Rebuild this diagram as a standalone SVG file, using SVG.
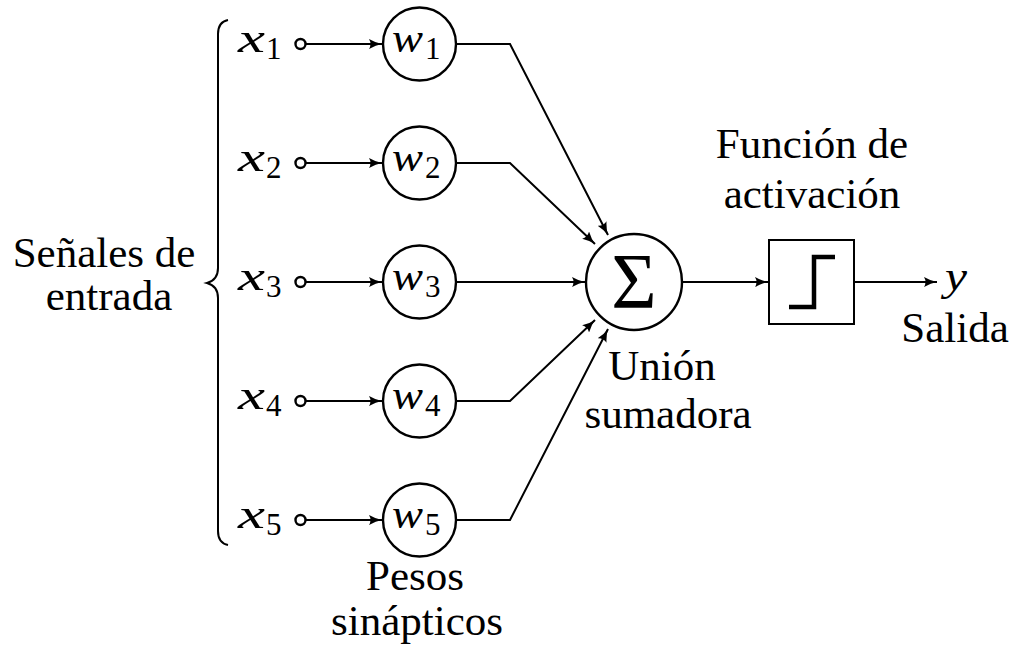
<svg xmlns="http://www.w3.org/2000/svg" width="1015" height="651" viewBox="0 0 1015 651">
<defs>
<style>
text{font-family:"Liberation Serif","DejaVu Serif",serif;fill:#000}
.t{font-size:43px}
.m{font-style:italic;font-size:42px}
.s{font-size:31px}
.c{fill:#fff;stroke:#000;stroke-width:2.4}
.ln{fill:none;stroke:#000;stroke-width:2}
.ar{fill:none;stroke:#000;stroke-width:2;marker-end:url(#ah)}
</style>
<marker id="ah" viewBox="0 0 13 10" refX="13" refY="5" markerWidth="13" markerHeight="10" markerUnits="userSpaceOnUse" orient="auto">
<path d="M0,0 Q7,4 13,5 Q7,6 0,10 Q3,5 0,0 Z" fill="#000"/>
</marker>
</defs>
<rect width="1015" height="651" fill="#fff"/>

<g id="connectors">
<line class="ar" x1="306" y1="44" x2="382" y2="44"/>
<line class="ar" x1="306" y1="163" x2="382" y2="163"/>
<line class="ar" x1="306" y1="282" x2="382" y2="282"/>
<line class="ar" x1="306" y1="401" x2="382" y2="401"/>
<line class="ar" x1="306" y1="520" x2="382" y2="520"/>
<polyline class="ar" points="456,44 510,44 608,235"/>
<polyline class="ar" points="456,163 510,163 595,244"/>
<line class="ar" x1="456" y1="282" x2="585" y2="282"/>
<polyline class="ar" points="456,401 510,401 595,320"/>
<polyline class="ar" points="456,520 510,520 608,329"/>
<line class="ar" x1="682" y1="282" x2="768" y2="282"/>
<line class="ar" x1="854" y1="282" x2="937" y2="282"/>
</g>

<g id="brace">
<path class="ln" d="M228,20 Q218,22 218,34 L218,268 Q218,280 207,283 Q218,286 218,298 L218,531 Q218,543 228,545"/>
</g>

<g id="inputs">
<g id="x1"><text class="m" x="238" y="52" textLength="27" lengthAdjust="spacingAndGlyphs">x</text><text class="s" x="266" y="59">1</text><circle class="c" cx="300.5" cy="44" r="5"/></g>
<g id="x2"><text class="m" x="238" y="171" textLength="27" lengthAdjust="spacingAndGlyphs">x</text><text class="s" x="266" y="178">2</text><circle class="c" cx="300.5" cy="163" r="5"/></g>
<g id="x3"><text class="m" x="238" y="290" textLength="27" lengthAdjust="spacingAndGlyphs">x</text><text class="s" x="266" y="297">3</text><circle class="c" cx="300.5" cy="282" r="5"/></g>
<g id="x4"><text class="m" x="238" y="409" textLength="27" lengthAdjust="spacingAndGlyphs">x</text><text class="s" x="266" y="416">4</text><circle class="c" cx="300.5" cy="401" r="5"/></g>
<g id="x5"><text class="m" x="238" y="528" textLength="27" lengthAdjust="spacingAndGlyphs">x</text><text class="s" x="266" y="535">5</text><circle class="c" cx="300.5" cy="520" r="5"/></g>
</g>

<g id="weights">
<g id="w1"><circle class="c" cx="419.5" cy="44" r="36.5"/><text class="m" x="392" y="52" textLength="31" lengthAdjust="spacingAndGlyphs">w</text><text class="s" x="425" y="59">1</text></g>
<g id="w2"><circle class="c" cx="419.5" cy="163" r="36.5"/><text class="m" x="392" y="171" textLength="31" lengthAdjust="spacingAndGlyphs">w</text><text class="s" x="425" y="178">2</text></g>
<g id="w3"><circle class="c" cx="419.5" cy="282" r="36.5"/><text class="m" x="392" y="290" textLength="31" lengthAdjust="spacingAndGlyphs">w</text><text class="s" x="425" y="297">3</text></g>
<g id="w4"><circle class="c" cx="419.5" cy="401" r="36.5"/><text class="m" x="392" y="409" textLength="31" lengthAdjust="spacingAndGlyphs">w</text><text class="s" x="425" y="416">4</text></g>
<g id="w5"><circle class="c" cx="419.5" cy="520" r="36.5"/><text class="m" x="392" y="528" textLength="31" lengthAdjust="spacingAndGlyphs">w</text><text class="s" x="425" y="535">5</text></g>
</g>

<g id="sum">
<circle class="c" cx="634" cy="282" r="48"/>
<text x="634" y="307" text-anchor="middle" font-size="78">Σ</text>
</g>

<g id="activation">
<rect x="769" y="240" width="85" height="84" fill="#fff" stroke="#000" stroke-width="2"/>
<polyline points="789,307 814,307 814,257 835,257" fill="none" stroke="#000" stroke-width="4.5"/>
</g>

<g id="output">
<text class="m" x="945" y="290" textLength="22" lengthAdjust="spacingAndGlyphs">y</text>
</g>

<g id="labels">
<text class="t" x="104" y="267" text-anchor="middle">Señales de</text>
<text class="t" x="109" y="310" text-anchor="middle">entrada</text>
<text class="t" x="812" y="158" text-anchor="middle">Función de</text>
<text class="t" x="812" y="208" text-anchor="middle">activación</text>
<text class="t" x="662" y="380" text-anchor="middle">Unión</text>
<text class="t" x="668" y="428" text-anchor="middle">sumadora</text>
<text class="t" x="955" y="342" text-anchor="middle">Salida</text>
<text class="t" x="415" y="590" text-anchor="middle">Pesos</text>
<text class="t" x="417" y="635" text-anchor="middle">sinápticos</text>
</g>
</svg>
